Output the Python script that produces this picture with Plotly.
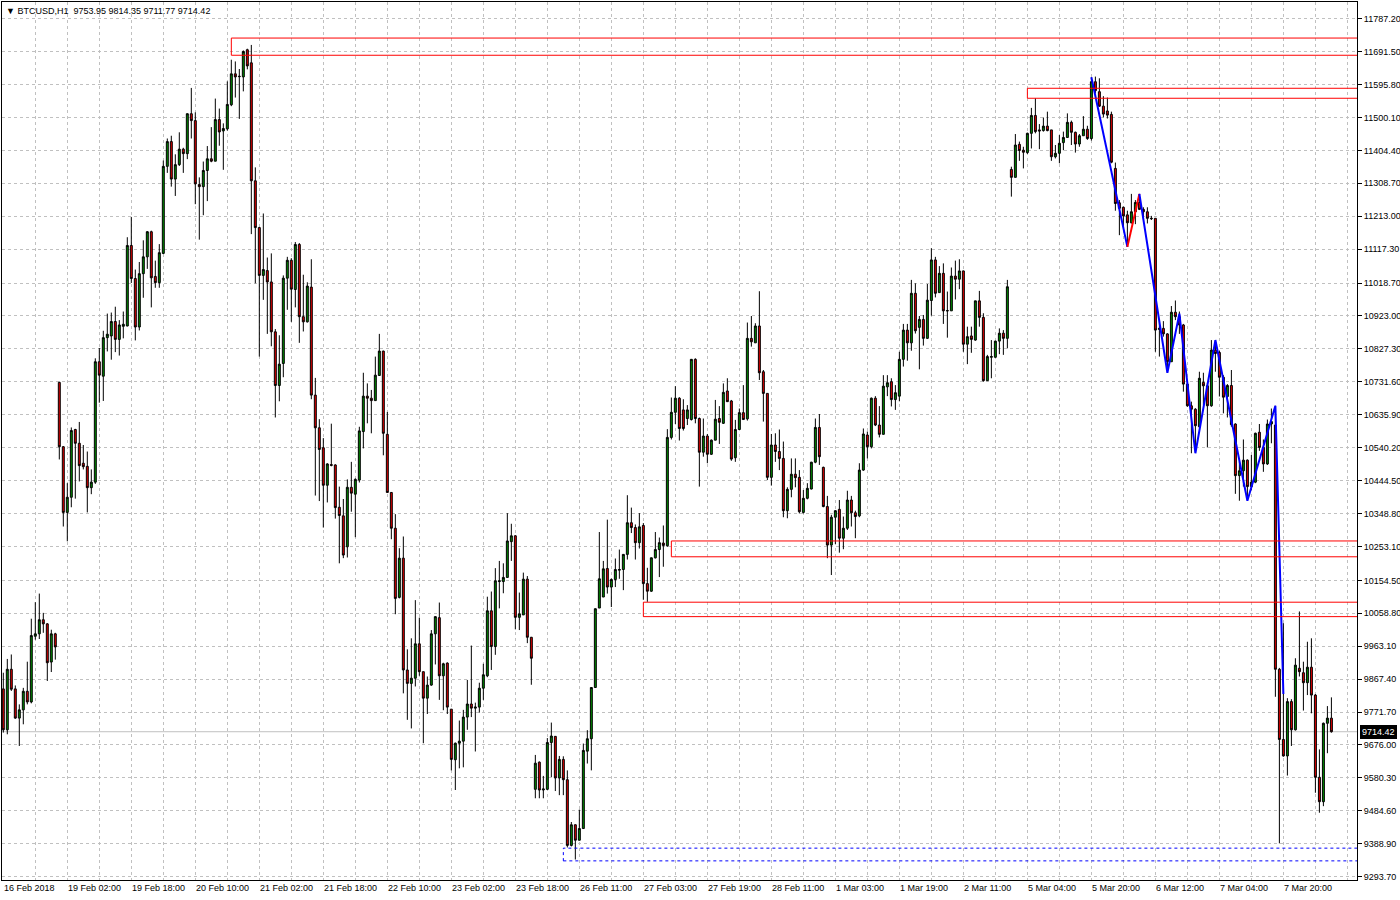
import plotly.graph_objects as go

# ---------------- data ----------------
opens = [9839, 9720, 9896, 9839, 9754, 9778, 9832, 9801, 9992, 9999, 10040, 10028, 9917, 9999,
         10730, 10543, 10352, 10396, 10593, 10553, 10495, 10486, 10424, 10440, 10790, 10748, 10860,
         10865, 10907, 10855, 10893, 10894, 11128, 11032, 10891, 11046, 11095, 11168, 11038, 11020,
         11105, 11358, 11430, 11321, 11363, 11408, 11395, 11511, 11491, 11305, 11299, 11346, 11380,
         11373, 11494, 11461, 11467, 11537, 11627, 11620, 11618, 11697, 11659, 11316, 11180, 11041,
         11055, 11022, 10877, 10721, 10785, 11033, 11085, 11000, 11131, 10921, 10906, 11007, 10693,
         10598, 10540, 10431, 10491, 10490, 10367, 10342, 10252, 10425, 10405, 10446, 10587, 10690,
         10684, 10677, 10750, 10821, 10579, 10410, 10306, 10105, 10219, 9894, 9855, 9870, 9970, 9889,
         9812, 9850, 9999, 10046, 9877, 9914, 9780, 9633, 9681, 9687, 9757, 9795, 9783, 9786, 9841,
         9877, 10066, 9962, 10151, 10151, 10163, 10267, 10284, 10047, 10054, 10158, 9989, 9547, 9626,
         9545, 9547, 9683, 9701, 9580, 9634, 9575, 9384, 9444, 9399, 9433, 9658, 9694, 9843, 10074,
         10106, 10189, 10135, 10157, 10184, 10186, 10230, 10322, 10308, 10264, 10314, 10145, 10123,
         10220, 10244, 10263, 10255, 10570, 10643, 10684, 10650, 10625, 10622, 10797, 10625, 10527,
         10574, 10521, 10562, 10625, 10611, 10705, 10676, 10511, 10593, 10642, 10624, 10858, 10845,
         10894, 10761, 10698, 10454, 10548, 10529, 10509, 10357, 10419, 10463, 10454, 10352, 10393,
         10420, 10498, 10599, 10483, 10369, 10257, 10338, 10361, 10277, 10306, 10388, 10351, 10342,
         10475, 10577, 10543, 10684, 10606, 10579, 10717, 10732, 10680, 10690, 10797, 10882, 10845,
         10989, 10890, 10913, 10858, 10968, 11086, 10991, 11047, 10939, 10938, 11039, 11030, 11054,
         10841, 10865, 10853, 10967, 10919, 10735, 10803, 10803, 10850, 10873, 10858, 11349, 11326,
         11422, 11405, 11398, 11454, 11506, 11464, 11462, 11475, 11464, 11386, 11396, 11427, 11442,
         11486, 11457, 11423, 11447, 11466, 11439, 11604, 11575, 11533, 11519, 11509, 11352, 11252,
         11239, 11217, 11194, 11226, 11253, 11233, 11226, 11207, 11207, 10884, 10887, 10871, 10790,
         10934, 10921, 10897, 10725, 10662, 10652, 10601, 10730, 10720, 10662, 10824, 10817, 10745,
         10689, 10721, 10609, 10459, 10473, 10504, 10427, 10440, 10585, 10541, 10493, 10609, 10606,
         9896, 9692, 9644, 9802, 9720, 9899, 9886, 9857, 9902, 9821, 9582, 9511, 9739, 9753.95]
highs = [9886, 9926, 9939, 9849, 9794, 9842, 9918, 10043, 10091, 10116, 10060, 10030, 10011, 10002,
         10732, 10545, 10437, 10599, 10595, 10615, 10548, 10529, 10477, 10800, 10830, 10880, 10930,
         10933, 10950, 10911, 10936, 11152, 11211, 11058, 11080, 11143, 11170, 11171, 11084, 11132,
         11375, 11439, 11447, 11393, 11457, 11412, 11512, 11586, 11515, 11326, 11372, 11417, 11472,
         11555, 11526, 11483, 11605, 11668, 11663, 11641, 11695, 11700, 11711, 11355, 11182, 11221,
         11093, 11105, 10885, 10867, 11041, 11095, 11091, 11138, 11135, 11043, 11021, 11088, 10743,
         10623, 10568, 10495, 10610, 10492, 10427, 10391, 10448, 10499, 10451, 10601, 10758, 10727,
         10708, 10805, 10871, 10822, 10644, 10411, 10347, 10248, 10282, 9954, 9986, 10097, 10046, 9889,
         9875, 10010, 10050, 10090, 9915, 9916, 9780, 9683, 9747, 9778, 9865, 9965, 9799, 9857, 9912,
         10107, 10122, 10190, 10211, 10204, 10350, 10319, 10286, 10119, 10177, 10167, 9990, 9647, 9628,
         9586, 9696, 9741, 9702, 9644, 9643, 9602, 9452, 9445, 9488, 9680, 9719, 9843, 10073, 10295,
         10211, 10331, 10160, 10218, 10244, 10231, 10402, 10366, 10317, 10350, 10321, 10191, 10221,
         10295, 10279, 10314, 10594, 10686, 10719, 10687, 10681, 10664, 10798, 10800, 10628, 10625,
         10580, 10564, 10679, 10661, 10727, 10742, 10679, 10621, 10654, 10722, 10904, 10923, 10902,
         10995, 10766, 10698, 10580, 10582, 10593, 10558, 10425, 10509, 10509, 10475, 10417, 10437,
         10499, 10625, 10638, 10485, 10400, 10345, 10359, 10388, 10340, 10415, 10400, 10357, 10495,
         10596, 10587, 10686, 10690, 10661, 10751, 10751, 10742, 10722, 10819, 10900, 10900, 11028,
         11018, 10923, 10926, 11016, 11120, 11095, 11068, 11076, 10994, 11064, 11084, 11088, 11055,
         10892, 10892, 10967, 10996, 10931, 10810, 10853, 10851, 10887, 10882, 11028, 11357, 11452,
         11430, 11415, 11456, 11528, 11556, 11481, 11500, 11517, 11464, 11420, 11449, 11459, 11512,
         11491, 11459, 11452, 11504, 11476, 11617, 11619, 11614, 11562, 11558, 11517, 11369, 11260,
         11241, 11229, 11278, 11260, 11278, 11239, 11239, 11214, 11207, 10911, 10908, 10873, 10952,
         10968, 10936, 10900, 10727, 10674, 10655, 10761, 10758, 10729, 10853, 10853, 10822, 10751,
         10725, 10766, 10611, 10500, 10564, 10506, 10519, 10584, 10609, 10564, 10622, 10654, 10662,
         9900, 10030, 9812, 9809, 9928, 10064, 9918, 9976, 9986, 9824, 9663, 9741, 9789, 9814.35]
lows = [9712, 9707, 9833, 9752, 9673, 9736, 9794, 9797, 9982, 9984, 10002, 9862, 9888, 9924,
        10506, 10311, 10268, 10367, 10392, 10442, 10477, 10352, 10405, 10435, 10671, 10676, 10820,
        10796, 10818, 10808, 10858, 10893, 11019, 10852, 10881, 10976, 11060, 10948, 11005, 11005,
        11103, 11339, 11299, 11272, 11359, 11339, 11379, 11439, 11248, 11145, 11216, 11257, 11370,
        11373, 11418, 11348, 11462, 11533, 11558, 11496, 11576, 11640, 11161, 11018, 10805, 10970,
        10871, 10835, 10628, 10675, 10745, 10941, 10906, 10948, 10845, 10878, 10904, 10681, 10401,
        10385, 10308, 10381, 10486, 10334, 10204, 10219, 10221, 10354, 10280, 10439, 10538, 10611,
        10582, 10677, 10750, 10518, 10410, 10274, 10056, 10102, 9826, 9749, 9724, 9846, 9877, 9681,
        9766, 9848, 9910, 9807, 9777, 9766, 9602, 9545, 9608, 9611, 9720, 9757, 9657, 9770, 9807,
        9873, 9894, 9938, 10073, 10117, 10163, 10211, 10012, 10010, 10054, 9972, 9851, 9521, 9521,
        9521, 9545, 9582, 9542, 9530, 9530, 9378, 9381, 9343, 9399, 9432, 9622, 9602, 9842, 10074,
        10106, 10116, 10077, 10135, 10159, 10126, 10215, 10292, 10215, 10247, 10098, 10092, 10121,
        10218, 10164, 10194, 10252, 10564, 10609, 10561, 10590, 10606, 10619, 10611, 10427, 10514,
        10495, 10519, 10562, 10551, 10609, 10673, 10502, 10499, 10592, 10622, 10619, 10834, 10845,
        10737, 10616, 10446, 10430, 10499, 10475, 10338, 10335, 10396, 10425, 10349, 10349, 10390,
        10419, 10495, 10490, 10367, 10219, 10170, 10260, 10235, 10245, 10301, 10311, 10277, 10338,
        10473, 10509, 10538, 10603, 10570, 10579, 10690, 10660, 10650, 10675, 10776, 10793, 10822,
        10872, 10768, 10837, 10856, 10924, 10977, 10991, 10900, 10860, 10938, 10971, 11001, 10819,
        10783, 10816, 10851, 10892, 10732, 10735, 10742, 10802, 10812, 10810, 10829, 11270, 11326,
        11374, 11352, 11394, 11410, 11454, 11408, 11459, 11460, 11374, 11381, 11367, 11405, 11442,
        11420, 11398, 11415, 11447, 11435, 11433, 11570, 11531, 11500, 11497, 11367, 11229, 11158,
        11183, 11124, 11192, 11190, 11231, 11204, 11192, 11202, 10819, 10805, 10863, 10758, 10790,
        10911, 10871, 10703, 10659, 10524, 10526, 10599, 10664, 10541, 10659, 10761, 10689, 10640,
        10628, 10601, 10406, 10386, 10427, 10388, 10417, 10437, 10531, 10470, 10490, 10553, 9816,
        9390, 9642, 9587, 9673, 9718, 9875, 9776, 9821, 9768, 9537, 9479, 9498, 9652, 9711.77]
closes = [9720, 9896, 9838, 9754, 9778, 9832, 9801, 9994, 9999, 10040, 10028, 9915, 9999, 9961,
          10543, 10352, 10396, 10590, 10553, 10488, 10485, 10424, 10440, 10790, 10751, 10860, 10870,
          10907, 10855, 10897, 10899, 11128, 11032, 10891, 11046, 11095, 11168, 11034, 11020, 11107,
          11358, 11430, 11321, 11363, 11408, 11395, 11511, 11491, 11307, 11299, 11346, 11380, 11373,
          11494, 11458, 11468, 11538, 11627, 11618, 11619, 11692, 11650, 11316, 11180, 11041, 11058,
          11022, 10877, 10721, 10783, 11033, 11085, 11001, 11131, 10921, 10906, 11010, 10693, 10598,
          10535, 10431, 10493, 10489, 10366, 10343, 10228, 10425, 10408, 10448, 10589, 10690, 10684,
          10677, 10751, 10821, 10582, 10410, 10306, 10102, 10219, 9894, 9855, 9870, 9970, 9889, 9812,
          9850, 9999, 10049, 9877, 9912, 9786, 9634, 9681, 9687, 9757, 9795, 9783, 9786, 9841, 9880,
          10066, 9962, 10153, 10153, 10163, 10269, 10284, 10047, 10057, 10158, 9989, 9928, 9623, 9545,
          9548, 9683, 9702, 9580, 9634, 9575, 9384, 9444, 9399, 9433, 9660, 9694, 9843, 10072, 10159,
          10188, 10135, 10157, 10186, 10186, 10230, 10322, 10308, 10264, 10310, 10145, 10123, 10220,
          10244, 10264, 10256, 10570, 10643, 10684, 10596, 10596, 10650, 10797, 10625, 10527, 10574,
          10521, 10562, 10623, 10614, 10701, 10674, 10507, 10593, 10642, 10622, 10858, 10848, 10894,
          10758, 10698, 10454, 10548, 10529, 10509, 10357, 10419, 10463, 10453, 10354, 10393, 10422,
          10498, 10599, 10514, 10369, 10257, 10338, 10357, 10277, 10306, 10388, 10351, 10340, 10475,
          10580, 10543, 10684, 10606, 10579, 10719, 10729, 10680, 10700, 10797, 10882, 10845, 10989,
          10880, 10913, 10858, 10969, 11086, 10989, 11047, 10938, 10938, 11039, 11030, 11054, 10841,
          10863, 10855, 10967, 10919, 10735, 10805, 10805, 10850, 10873, 10858, 11008, 11326, 11420,
          11404, 11399, 11454, 11506, 11459, 11461, 11475, 11462, 11386, 11396, 11425, 11442, 11486,
          11457, 11423, 11447, 11466, 11439, 11604, 11578, 11533, 11510, 11507, 11370, 11250, 11236,
          11214, 11194, 11226, 11253, 11233, 11226, 11207, 11206, 10882, 10887, 10871, 10790, 10934,
          10921, 10897, 10725, 10662, 10652, 10604, 10742, 10720, 10662, 10824, 10814, 10745, 10687,
          10721, 10607, 10459, 10473, 10504, 10427, 10440, 10582, 10541, 10493, 10609, 10616, 9896,
          9692, 9644, 9802, 9720, 9908, 9889, 9857, 9902, 9821, 9582, 9511, 9739, 9754, 9714.42]

date_idx = [0, 16, 32, 48, 64, 80, 96, 112, 128, 144, 160, 176, 192, 208, 224, 240, 256, 272, 288, 304, 320]
date_text = ["16 Feb 2018", "19 Feb 02:00", "19 Feb 18:00", "20 Feb 10:00", "21 Feb 02:00",
             "21 Feb 18:00", "22 Feb 10:00", "23 Feb 02:00", "23 Feb 18:00", "26 Feb 11:00",
             "27 Feb 03:00", "27 Feb 19:00", "28 Feb 11:00", "1 Mar 03:00", "1 Mar 19:00",
             "2 Mar 11:00", "5 Mar 04:00", "5 Mar 20:00", "6 Mar 12:00", "7 Mar 04:00", "7 Mar 20:00"]

price_ticks = [11787.20, 11691.50, 11595.80, 11500.10, 11404.40, 11308.70, 11213.00, 11117.30,
               11018.70, 10923.00, 10827.30, 10731.60, 10635.90, 10540.20, 10444.50, 10348.80,
               10253.10, 10154.50, 10058.80, 9963.10, 9867.40, 9771.70, 9676.00, 9580.30, 9484.60,
               9388.90, 9293.70]

# zigzag (bar index, price)
zz_blue1_x = [272, 281]
zz_blue1_y = [11617, 11124]
zz_red_x = [281, 284]
zz_red_y = [11124, 11278]
zz_blue2_x = [284, 291, 294, 298, 303, 311, 318, 320]
zz_blue2_y = [11278, 10758, 10930, 10524, 10853, 10386, 10662, 9824]

# zones: (start bar, low price, high price)
red_zones = [(57, 11681, 11731), (256, 11556, 11585), (167, 10223, 10269), (160, 10049, 10091)]
blue_zone = (140, 9339, 9376)

last_price = 9714.42
header = "BTCUSD,H1  9753.95 9814.35 9711.77 9714.42"

# ---------------- figure ----------------
n = len(closes)
xs = list(range(n))
X_MIN, X_MAX = -0.325, 338.4
Y_MIN, Y_MAX = 9283.4, 11835.8
FONT = "Liberation Sans"

fig = go.Figure()
fig.add_trace(go.Candlestick(
    x=xs, open=opens, high=highs, low=lows, close=closes,
    increasing=dict(fillcolor="#008A00", line=dict(color="#000000", width=1)),
    decreasing=dict(fillcolor="#E00000", line=dict(color="#000000", width=1)),
    whiskerwidth=0, showlegend=False, hoverinfo="skip"))

fig.add_trace(go.Scatter(x=zz_blue1_x, y=zz_blue1_y, mode="lines",
                         line=dict(color="#0000FF", width=2), showlegend=False, hoverinfo="skip"))
fig.add_trace(go.Scatter(x=zz_red_x, y=zz_red_y, mode="lines",
                         line=dict(color="#FF0000", width=2), showlegend=False, hoverinfo="skip"))
fig.add_trace(go.Scatter(x=zz_blue2_x, y=zz_blue2_y, mode="lines",
                         line=dict(color="#0000FF", width=2), showlegend=False, hoverinfo="skip"))

shapes = []
# bid line
shapes.append(dict(type="line", xref="x", yref="y", x0=X_MIN, x1=X_MAX, y0=last_price, y1=last_price,
                   line=dict(color="#C0C0C0", width=1), layer="below"))
for (x0, lo, hi) in red_zones:
    shapes.append(dict(type="rect", xref="x", yref="y", x0=x0, x1=X_MAX + 5, y0=lo, y1=hi,
                       line=dict(color="#FF0000", width=1), fillcolor="rgba(0,0,0,0)", layer="above"))
bx, blo, bhi = blue_zone
shapes.append(dict(type="rect", xref="x", yref="y", x0=bx, x1=X_MAX + 5, y0=blo, y1=bhi,
                   line=dict(color="#0000FF", width=1, dash="3px,3px"), fillcolor="rgba(0,0,0,0)",
                   layer="above"))

annotations = []
for i, t in zip(date_idx, date_text):
    annotations.append(dict(x=i, y=0, xref="x", yref="paper", text=t, showarrow=False,
                            xanchor="left", yanchor="top", xshift=-1, yshift=-1,
                            font=dict(family=FONT, size=9, color="#000000")))
annotations.append(dict(x=0, y=1, xref="paper", yref="paper", text="\u25BC " + header,
                        showarrow=False, xanchor="left", yanchor="top", xshift=2, yshift=-2,
                        font=dict(family=FONT, size=9, color="#000000")))
annotations.append(dict(x=1, y=last_price, xref="paper", yref="y", text="%.2f" % last_price,
                        showarrow=False, xanchor="left", yanchor="middle", xshift=3,
                        bgcolor="#000000", bordercolor="#000000", borderwidth=1, borderpad=1,
                        font=dict(family=FONT, size=9, color="#FFFFFF")))

fig.update_layout(
    width=1400, height=900,
    margin=dict(l=2, r=43, t=2, b=20, autoexpand=False),
    paper_bgcolor="#FFFFFF", plot_bgcolor="#FFFFFF",
    shapes=shapes, annotations=annotations,
    showlegend=False,
    xaxis=dict(range=[X_MIN, X_MAX], tickmode="array", tickvals=list(range(8, 339, 8)),
               showticklabels=False, ticks="", showgrid=True, gridcolor="#C0C0C0",
               griddash="3px,3px", gridwidth=1, zeroline=False, showline=True,
               linecolor="#000000", linewidth=1, mirror=True, rangeslider=dict(visible=False),
               fixedrange=True, automargin=False),
    yaxis=dict(range=[Y_MIN, Y_MAX], side="right", tickmode="array", tickvals=price_ticks,
               ticktext=["%.2f" % v for v in price_ticks], showgrid=True, gridcolor="#C0C0C0",
               griddash="3px,3px", gridwidth=1, zeroline=False, showline=True,
               linecolor="#000000", linewidth=1, mirror=True, ticks="outside", ticklen=4,
               tickcolor="#000000", tickfont=dict(family=FONT, size=9, color="#000000"),
               fixedrange=True, automargin=False),
)

fig.write_html("out.html", config={"displayModeBar": False},
               post_script="document.body.style.margin='0';document.body.style.overflow='hidden';")
